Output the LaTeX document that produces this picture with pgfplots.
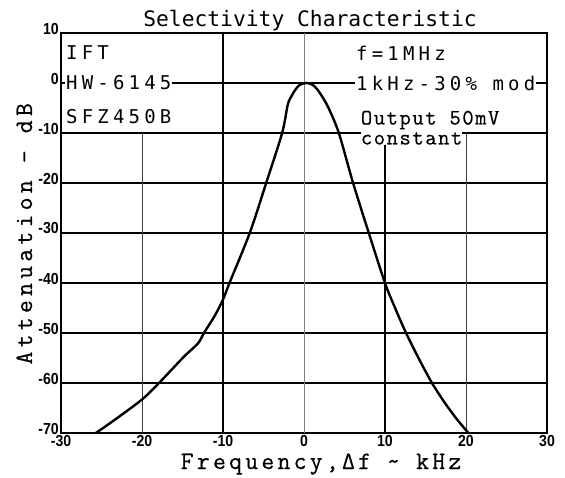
\documentclass[border=0pt]{standalone}
\usepackage{pgfplots}
\pgfplotsset{compat=1.18}
\usepackage{fontspec}
\setmainfont{Latin Modern Mono}
\newfontfamily\titlefont{DejaVu Sans Mono}
\newfontfamily\spacedfont[LetterSpace=22]{DejaVu Sans Mono}
\newfontfamily\tickfont[FakeStretch=0.88]{Liberation Sans}
\newfontfamily\xlabfont[LetterSpace=13,FakeBold=0.5]{Latin Modern Mono}
\newfontfamily\ylabfont[LetterSpace=17,FakeBold=0.5]{Latin Modern Mono}
\newfontfamily\notefont[LetterSpace=7,FakeBold=0.5]{Latin Modern Mono}
\begin{document}
\begin{tikzpicture}
\useasboundingbox (-61pt,-44pt) rectangle (504pt,433pt);
\begin{axis}[
  at={(0pt,0pt)}, anchor=south west,
  scale only axis, width=486pt, height=400pt,
  xmin=-30, xmax=30, ymin=-70, ymax=10,
  xtick={-30,-20,...,30}, ytick={-70,-60,...,10},
  major tick length=0pt,
  axis line style={black, line width=1.1pt},
  /pgf/number format/assume math mode=true,
  tick label style={font=\fontsize{16}{16}\tickfont\bfseries},
  yticklabel style={inner sep=0pt, xshift=-2pt, yshift=4.5pt},
  xticklabel style={inner sep=0pt, yshift=-2.5pt},
  clip=false,
]
% grid lines
\pgfplotsinvokeforeach{-10,-20,-30,-40,-50,-60}{
  \draw[black, line width=1.2pt] (axis cs:-30,#1) -- (axis cs:30,#1);
}
\draw[black, line width=1.1pt] (axis cs:-30,0) -- (axis cs:30,0);
\draw[black, line width=1.6pt] (axis cs:-10,10) -- (axis cs:-10,-70);
\draw[gray, line width=0.8pt] (axis cs:0,10) -- (axis cs:0,-70);
\draw[black!75, line width=0.9pt] (axis cs:-20,-10) -- (axis cs:-20,-70);
\draw[black, line width=1.4pt] (axis cs:10,-10) -- (axis cs:10,-70);
\draw[black!75, line width=0.9pt] (axis cs:20,-10) -- (axis cs:20,-70);
% texts
\node[anchor=west, fill=white, inner sep=1pt, font=\fontsize{19}{19}\spacedfont] at (axis cs:-29.5,6) {IFT};
\node[anchor=west, fill=white, inner sep=1pt, font=\fontsize{19}{19}\spacedfont] at (axis cs:-29.5,0) {HW-6145};
\node[anchor=west, fill=white, inner sep=1pt, font=\fontsize{19}{19}\spacedfont] at (axis cs:-29.5,-6.8) {SFZ450B};
\node[anchor=west, fill=white, inner sep=1pt, font=\fontsize{19}{19}\spacedfont] at (axis cs:6.3,6) {f=1MHz};
\node[anchor=west, fill=white, inner sep=1pt, font=\fontsize{19}{19}\spacedfont] at (axis cs:6.3,0) {1kHz-30\% mod};
\node[anchor=base west, fill=white, inner sep=0pt, font=\fontsize{22}{22}\notefont] at (axis cs:7.0,-8.3) {Output 50mV};
\node[anchor=base west, fill=white, inner sep=0pt, font=\fontsize{22}{22}\notefont] at (axis cs:7.0,-12.3) {constant};
% curve
\addplot[black, line width=2.4pt, smooth, tension=0.5] coordinates {
(-25.7,-70) (-23.4,-67.4) (-20,-63.3) (-17.9,-60) (-14.8,-54.7) (-13.1,-52.1)
(-12.35,-50) (-11,-46.5) (-10,-43.3) (-9.2,-40) (-6.7,-30) (-4.67,-20) (-2.7,-10)
(-2.0,-4.3) (-1.5,-2.5) (-1.0,-1.2) (-0.5,-0.35) (0.3,0) (1.0,-0.3) (1.6,-1.2)
(2.2,-2.6) (3.0,-4.9)
(4.3,-10) (6.06,-20) (8.0,-30) (10.0,-40) (11.3,-45.2) (12.6,-50) (14.2,-55.2)
(15.8,-60) (17.4,-64) (18.9,-67.3) (20.3,-70)
};
% title and labels
\node[anchor=base, font=\fontsize{21.3}{21.3}\titlefont] at ([yshift=6pt, xshift=6pt]rel axis cs:0.5,1) {Selectivity Characteristic};
\node[anchor=base, inner sep=0pt, font=\fontsize{25}{25}\xlabfont] at ([yshift=-36pt]axis cs:2.1,-70) {Frequency,Δf \textasciitilde{} kHz};
\node[anchor=base east, inner sep=0pt, rotate=90, font=\fontsize{25}{25}\ylabfont] at ([xshift=-29pt]axis cs:-30,-4) {Attenuation - dB};
\end{axis}
\end{tikzpicture}
\end{document}
